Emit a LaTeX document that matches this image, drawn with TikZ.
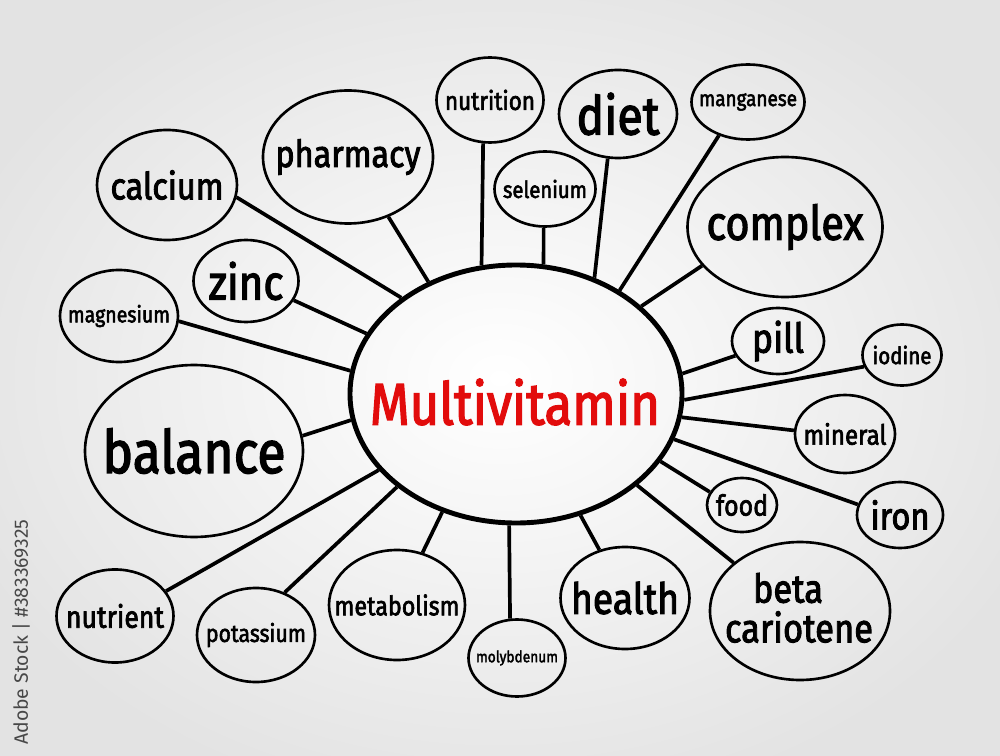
\documentclass[tikz,border=0pt]{standalone}
\usepackage{fontspec}
\setmainfont{Fira Sans}
\newfontfamily\hand{Fira Sans}[FakeBold=2.6]
\usetikzlibrary{shapes.geometric}
\newlength\pxu
\setlength\pxu{0.2mm}
\newcommand\fw[2]{\resizebox{#1\pxu}{!}{\scalebox{1}[1.15]{\hand #2}}}
\tikzset{
  bubble/.style={ellipse, draw=black, line width=1.5pt, inner sep=0pt},
  hub/.style={ellipse, draw=black, line width=2.8pt, inner sep=0pt},
  link/.style={draw=black, line width=2.1pt},
  word/.style={inner sep=0pt, text=black},
}
\newcommand\bub[7]{%
  \node[bubble, minimum width=#4\pxu, minimum height=#5\pxu] (#1) at (#2,#3) {};
  \node[word] (#1-t) at (#1.center) {\fw{#6}{#7}};
}
\begin{document}
\begin{tikzpicture}[x=0.2mm,y=-0.2mm]
\useasboundingbox (0,0) rectangle (1000,756);
\shade[inner color=white, outer color=black!11] (-80,-60) rectangle (1080,816);
% hub
\node[hub, minimum width=332\pxu, minimum height=258\pxu] (c) at (516,394) {};
\node[word, text={rgb,255:red,226;green,12;blue,12}] (c-t) at (515,402) {\fw{290}{Multivitamin}};
% bubbles
\bub{calcium}{167}{185}{140}{110}{113}{calcium}
\bub{pharmacy}{348}{157}{170}{133}{145}{pharmacy}
\bub{nutrition}{490}{100}{107}{85}{90}{nutrition}
\bub{diet}{618}{114}{118}{88}{83}{diet}
\bub{manganese}{748}{102}{113}{75}{98}{manganese}
\bub{selenium}{545}{189}{101}{75}{84}{selenium}
\bub{complex}{785}{227}{195}{140}{157}{complex}
\bub{zinc}{246}{281}{105}{82}{75}{zinc}
\bub{magnesium}{119}{316}{118}{92}{102}{magnesium}
\bub{balance}{194}{451}{218}{172}{183}{balance}
\bub{pill}{778}{341}{92}{66}{52}{pill}
\bub{iodine}{902}{355}{79}{61}{59}{iodine}
\bub{mineral}{845}{434}{100}{78}{83}{mineral}
\bub{food}{742}{505}{70}{54}{52}{food}
\bub{iron}{900}{515}{86}{66}{59}{iron}
\node[bubble, minimum width=180\pxu, minimum height=138\pxu] (beta) at (800,611) {};
\node[word] (beta-t1) at (788,588) {\fw{70}{beta}};
\node[word] (beta-t2) at (799,627) {\fw{148}{cariotene}};
\bub{health}{625}{598}{129}{102}{108}{health}
\bub{molybdenum}{517}{658}{97}{77}{82}{molybdenum}
\bub{metabolism}{397}{605}{136}{110}{125}{metabolism}
\bub{potassium}{256}{635}{118}{94}{100}{potassium}
\bub{nutrient}{115}{616}{117}{93}{98}{nutrient}
% links: hub anchor angle / bubble anchor angle
\foreach \n/\a/\b in {calcium/140.2/-10.8, pharmacy/128.5/-56.3, zinc/158.4/-22,
  magnesium/172.7/-5.8, balance/-171.1/8.3, nutrient/-151.3/26.1, potassium/-142.1/56,
  metabolism/-122.7/64.7, molybdenum/-93.4/100.4, health/-62.4/118.4, beta/-37.3/144.8,
  food/-25.9/158, iron/-16/166, mineral/-8.9/176.6, iodine/-2/-163.4, pill/7.6/-161,
  complex/35.5/-155.9, manganese/45.8/-131.3, diet/56.7/-103.5, selenium/78.2/-92.9,
  nutrition/105.3/-99.5}
  \draw[link] (c.\a) -- (\n.\b);
% side credit
\node[word, rotate=90, text=black!72] (credit) at (21,632) {\resizebox{225\pxu}{!}{Adobe Stock | \#383369325}};
\end{tikzpicture}
\end{document}
